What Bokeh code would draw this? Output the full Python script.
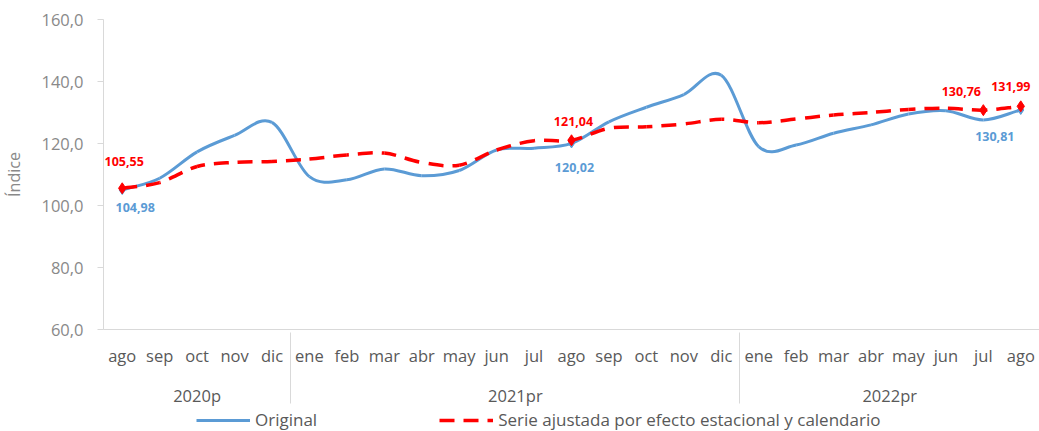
import numpy as np
from bokeh.plotting import figure
from bokeh.layouts import column
from bokeh.models import (FactorRange, FixedTicker, CustomJSTickFormatter, Legend,
                          LegendItem, ColumnDataSource)
from bokeh.core.properties import value
from bokeh.embed import file_html
from bokeh.resources import INLINE

# ---------------- data ----------------
years = ["2020p"] * 5 + ["2021pr"] * 12 + ["2022pr"] * 8
months = ["ago", "sep", "oct", "nov", "dic",
          "ene", "feb", "mar", "abr", "may", "jun", "jul", "ago", "sep", "oct", "nov", "dic",
          "ene", "feb", "mar", "abr", "may", "jun", "jul", "ago"]
original = [104.98, 108.8, 117.3, 122.6, 126.8,
            109.3, 108.3, 111.8, 109.6, 111.3, 117.9, 118.5, 120.02, 127.0, 131.7, 135.8, 142.0,
            119.0, 119.5, 123.3, 126.0, 129.5, 130.6, 127.6, 130.81]
ajustada = [105.55, 107.4, 112.6, 113.9, 114.2,
            115.0, 116.3, 116.9, 113.9, 113.0, 117.9, 120.9, 121.04, 124.9, 125.4, 126.3, 127.8,
            126.7, 127.9, 129.2, 130.0, 131.0, 131.4, 130.76, 131.99]
y_ticks = [60, 80, 100, 120, 140, 160]
label_idx_red = [0, 12, 23, 24]
label_idx_blue = [0, 12, 24]
series_names = ["Original", "Serie ajustada por efecto estacional y calendario"]

# label placement (pixels)
red_dx = [2, 2, -22, -10]
red_dy = [-27, -19, -19, -20]
blue_dx = [13, 3, -26]
blue_dy = [17, 24, 27]

BLUE = "#5B9BD5"
RED = "#FF0000"
FONT = "Open Sans"
TXT = "#595959"
GRAY = "#898989"
DASH = [15, 9]

W, H_MAIN, H_LEG = 1039, 409, 22
LEFT, TOP, BOTTOM = 103, 19, 78
FRAME_W = W - LEFT
FRAME_H = H_MAIN - TOP - BOTTOM

factors = list(zip(years, months))


def fmt(v):
    return f"{v:.2f}".replace(".", ",")


def smooth_segments(vals, y_span):
    # Catmull-Rom style bezier segments (Excel smoothed line) in synthetic coords
    v = np.asarray(vals, dtype=float)
    n = len(v)
    xs = np.arange(n) + 0.5
    vp = np.concatenate([[v[0]], v, [v[-1]]])
    tang = (vp[2:] - vp[:-2]) / 2.0
    tang[0] = v[1] - v[0]
    tang[-1] = v[-1] - v[-2]
    d = dict(
        x0=xs[:-1], y0=v[:-1], x1=xs[1:], y1=v[1:],
        cx0=xs[:-1] + 1 / 3, cy0=v[:-1] + tang[:-1] / 3,
        cx1=xs[1:] - 1 / 3, cy1=v[1:] - tang[1:] / 3,
    )
    # continuous dash phase along the curve (pixel length of each segment)
    kx, ky = FRAME_W / n, FRAME_H / y_span
    t = np.linspace(0, 1, 21)[:, None]
    bx = ((1 - t) ** 3 * d["x0"] + 3 * (1 - t) ** 2 * t * d["cx0"]
          + 3 * (1 - t) * t ** 2 * d["cx1"] + t ** 3 * d["x1"]) * kx
    by = ((1 - t) ** 3 * d["y0"] + 3 * (1 - t) ** 2 * t * d["cy0"]
          + 3 * (1 - t) * t ** 2 * d["cy1"] + t ** 3 * d["y1"]) * ky
    seg_len = np.hypot(np.diff(bx, axis=0), np.diff(by, axis=0)).sum(axis=0)
    start = np.concatenate([[0.0], np.cumsum(seg_len)[:-1]])
    d["dash_off"] = [int(round(s)) % sum(DASH) for s in start]
    return d


p = figure(width=W, height=H_MAIN, output_backend="svg", toolbar_location=None,
           x_range=FactorRange(*factors, group_padding=0, factor_padding=0, range_padding=0),
           y_range=(y_ticks[0], y_ticks[-1]), min_border_left=LEFT, min_border_right=0,
           min_border_top=TOP, min_border_bottom=BOTTOM)
p.outline_line_color = None
p.xgrid.visible = False
p.ygrid.visible = False
p.background_fill_color = "white"
p.border_fill_color = "white"

span = y_ticks[-1] - y_ticks[0]
blue_src = ColumnDataSource(smooth_segments(original, span))
red_src = ColumnDataSource(smooth_segments(ajustada, span))

p.bezier(x0="x0", y0="y0", x1="x1", y1="y1", cx0="cx0", cy0="cy0", cx1="cx1", cy1="cy1",
         source=blue_src, line_color=BLUE, line_width=3)
p.bezier(x0="x0", y0="y0", x1="x1", y1="y1", cx0="cx0", cy0="cy0", cx1="cx1", cy1="cy1",
         source=red_src, line_color=RED, line_width=3.5, line_dash=" ".join(map(str, DASH)),
         line_dash_offset="dash_off")

# markers
p.scatter(x=[factors[i] for i in label_idx_blue], y=[original[i] for i in label_idx_blue],
          marker="diamond", size=9, color=BLUE)
p.scatter(x=[factors[i] for i in label_idx_red], y=[ajustada[i] for i in label_idx_red],
          marker="diamond", size=11, color=RED)

# data labels
p.text(x=[factors[i] for i in label_idx_red], y=[ajustada[i] for i in label_idx_red],
       text=[fmt(ajustada[i]) for i in label_idx_red], x_offset=red_dx, y_offset=red_dy,
       text_color=RED, text_font=value(FONT), text_font_style="bold", text_font_size="12.5px",
       text_align="center", text_baseline="middle")
p.text(x=[factors[i] for i in label_idx_blue], y=[original[i] for i in label_idx_blue],
       text=[fmt(original[i]) for i in label_idx_blue], x_offset=blue_dx, y_offset=blue_dy,
       text_color=BLUE, text_font=value(FONT), text_font_style="bold", text_font_size="12.5px",
       text_align="center", text_baseline="middle")

# y axis
ya = p.yaxis[0]
ya.ticker = FixedTicker(ticks=y_ticks)
ya.formatter = CustomJSTickFormatter(code="return tick.toFixed(1).replace('.', ',');")
ya.axis_label = "Índice"
ya.axis_label_text_font = FONT
ya.axis_label_text_font_size = "16px"
ya.axis_label_text_font_style = "normal"
ya.axis_label_text_color = GRAY
ya.axis_label_standoff = 13
ya.major_label_text_font = FONT
ya.major_label_text_font_size = "16.5px"
ya.major_label_text_color = GRAY
ya.major_label_standoff = 14
ya.axis_line_color = "#d9d9d9"
ya.major_tick_line_color = "#d9d9d9"
ya.major_tick_out = 6
ya.major_tick_in = 0
ya.minor_tick_line_color = None

# x axis
xa = p.xaxis[0]
xa.axis_line_color = "#d9d9d9"
xa.major_tick_line_color = None
xa.major_tick_out = 0
xa.major_tick_in = 0
xa.minor_tick_line_color = None
xa.major_label_text_font = FONT
xa.major_label_text_font_size = "16.5px"
xa.major_label_text_color = TXT
xa.major_label_standoff = 14
xa.major_label_orientation = "horizontal"
xa.group_text_font = FONT
xa.group_text_font_size = "16.5px"
xa.group_text_color = TXT
xa.group_text_font_style = "normal"
xa.separator_line_color = "#d9d9d9"
xa.separator_line_width = 1

# legend strip (own small figure below the chart; its frame aligns with the chart's)
lg = figure(width=W, height=H_LEG, output_backend="svg", toolbar_location=None,
            x_axis_type=None, y_axis_type=None, x_range=(0, 1), y_range=(0, 1),
            min_border=0)
lg.outline_line_color = None
lg.xgrid.visible = False
lg.ygrid.visible = False
nan = float("nan")
lg_blue = lg.line(x=[nan], y=[nan], line_color=BLUE, line_width=3)
lg_red = lg.line(x=[nan], y=[nan], line_color=RED, line_width=3.5,
                 line_dash=" ".join(map(str, DASH)))
legend = Legend(items=[LegendItem(label=series_names[0], renderers=[lg_blue]),
                       LegendItem(label=series_names[1], renderers=[lg_red])],
                orientation="horizontal", location=(93, 0), spacing=122, glyph_width=54,
                label_standoff=5, label_text_font=FONT, label_text_font_size="17px",
                label_text_color=TXT, border_line_color=None, background_fill_alpha=0,
                padding=0, margin=0, label_height=20, glyph_height=20)
lg.add_layout(legend)

open("out.html", "w").write(file_html(column(p, lg, spacing=0), INLINE))
